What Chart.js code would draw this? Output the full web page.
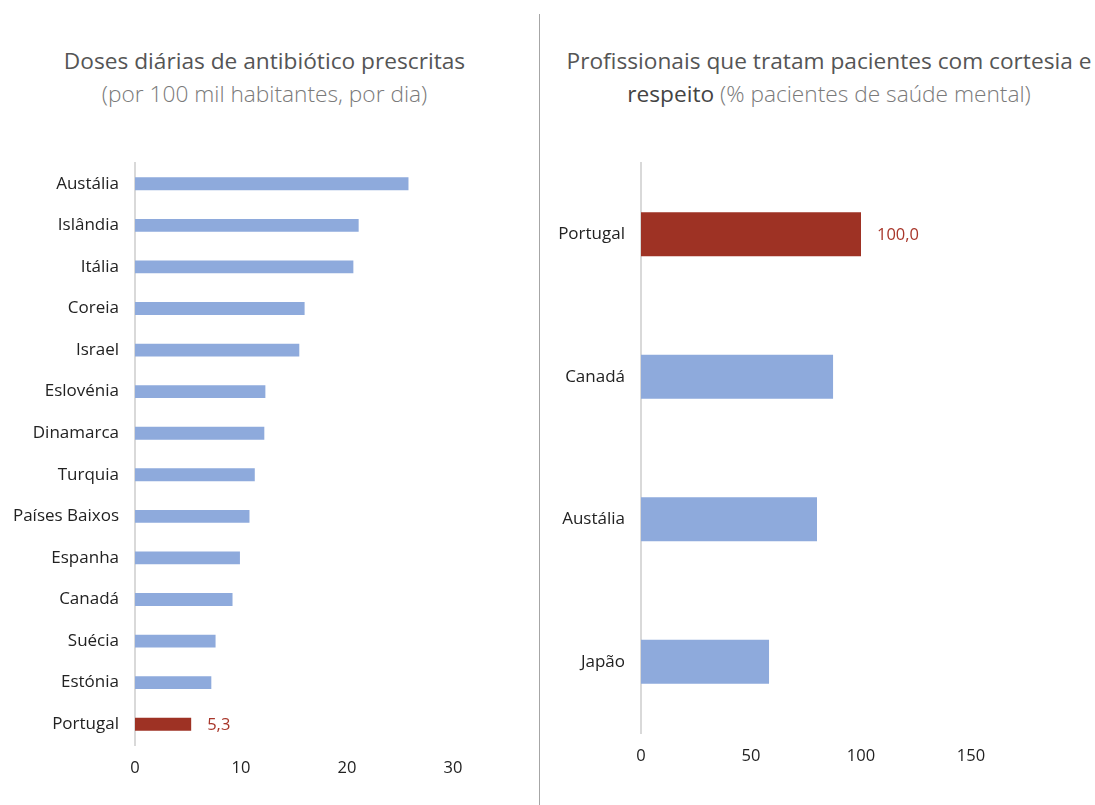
<!DOCTYPE html>
<html lang="pt">
<head>
<meta charset="utf-8">
<title>Antibióticos e cortesia</title>
<script src="https://cdn.jsdelivr.net/npm/chart.js@4/dist/chart.umd.min.js"></script>
<style>
  html, body { margin: 0; padding: 0; background: #fff; }
  body { width: 1095px; height: 805px; position: relative; overflow: hidden;
         font-family: "Open Sans", "Noto Sans", sans-serif; }
  canvas { position: absolute; top: 0; }
  #esq { left: 0; }
  #dir { left: 540px; }
  .titulo { position: absolute; text-align: center; white-space: nowrap;
            font-size: 22.7px; line-height: 33px; color: #555; }
  .titulo .sub { color: #7a7a7a; font-weight: 300; }
  .titulo .forte { color: #444; }
  #sep { position: absolute; left: 539px; top: 14px; width: 1px; height: 791px; background: #a6a6a6; }
</style>
</head>
<body>
<div class="titulo" style="left:-5px; width:539px; top:44px;">
  Doses diárias de antibiótico prescritas<br><span class="sub">(por 100 mil habitantes, por dia)</span>
</div>
<div class="titulo" style="left:563px; width:532px; top:44px;">
  Profissionais que tratam pacientes com cortesia e<br><span class="forte">respeito</span> <span class="sub">(% pacientes de saúde mental)</span>
</div>
<div id="sep"></div>
<canvas id="esq" width="539" height="805"></canvas>
<canvas id="dir" width="555" height="805"></canvas>

<script>
// doses diárias de antibiótico (por 100 mil hab., por dia)
const paisesAntib = ['Austália', 'Islândia', 'Itália', 'Coreia', 'Israel', 'Eslovénia', 'Dinamarca',
  'Turquia', 'Países Baixos', 'Espanha', 'Canadá', 'Suécia', 'Estónia', 'Portugal'];
const dosesAntib = [25.8, 21.1, 20.6, 16.0, 15.5, 12.3, 12.2, 11.3, 10.8, 9.9, 9.2, 7.6, 7.2, 5.3];
const ticksAntib = [0, 10, 20, 30];

// % de doentes de saúde mental tratados com cortesia e respeito
const paisesCortesia = ['Portugal', 'Canadá', 'Austália', 'Japão'];
const valoresCortesia = [100.0, 87.3, 80.0, 58.2];
const ticksCortesia = [0, 50, 100, 150];

const destaque = 'Portugal';
const AZUL = '#8eaadc';
const VERMELHO = '#9e3224';
const FONTE = '"Open Sans", "Noto Sans", sans-serif';

// escreve o valor do país em destaque à direita da barra
const rotuloDestaque = {
  id: 'rotuloDestaque',
  afterDatasetsDraw(chart) {
    const ctx = chart.ctx;
    const labels = chart.data.labels;
    const i = labels.indexOf(destaque);
    if (i < 0) return;
    const bar = chart.getDatasetMeta(0).data[i];
    const v = chart.data.datasets[0].data[i];
    ctx.save();
    ctx.font = '16.5px ' + FONTE;
    ctx.fillStyle = '#a8362a';
    ctx.textBaseline = 'middle';
    ctx.textAlign = 'left';
    ctx.fillText(v.toFixed(1).replace('.', ','), bar.x + 16, bar.y + 1);
    ctx.restore();
  }
};

function criaGrafico(id, labels, valores, ticks, yLargura, padDir, padBaixo) {
  new Chart(document.getElementById(id), {
    type: 'bar',
    data: {
      labels: labels,
      datasets: [{
        data: valores,
        backgroundColor: labels.map(p => p === destaque ? VERMELHO : AZUL),
        borderWidth: 0,
        categoryPercentage: 1,
        barPercentage: 0.31
      }]
    },
    options: {
      indexAxis: 'y',
      responsive: false,
      animation: false,
      devicePixelRatio: 1,
      layout: { padding: { top: 163, right: padDir, bottom: padBaixo, left: 0 } },
      plugins: { legend: { display: false }, tooltip: { enabled: false } },
      scales: {
        x: {
          min: ticks[0],
          max: ticks[ticks.length - 1],
          afterBuildTicks: s => { s.ticks = ticks.map(v => ({ value: v })); },
          afterFit: s => { s.height = 40; },
          grid: { display: false, drawTicks: false },
          border: { display: false },
          ticks: { color: '#222', padding: 13, font: { family: FONTE, size: 16.5 } }
        },
        y: {
          afterFit: s => { s.width = yLargura; },
          grid: { display: false, drawTicks: false },
          border: { display: true, color: '#d9d9d9', width: 2 },
          ticks: { color: '#222', padding: 16, font: { family: FONTE, size: 17 } }
        }
      }
    },
    plugins: [rotuloDestaque]
  });
}

criaGrafico('esq', paisesAntib, dosesAntib, ticksAntib, 135, 86, 20);
criaGrafico('dir', paisesCortesia, valoresCortesia, ticksCortesia, 101, 124, 32);
</script>
</body>
</html>
